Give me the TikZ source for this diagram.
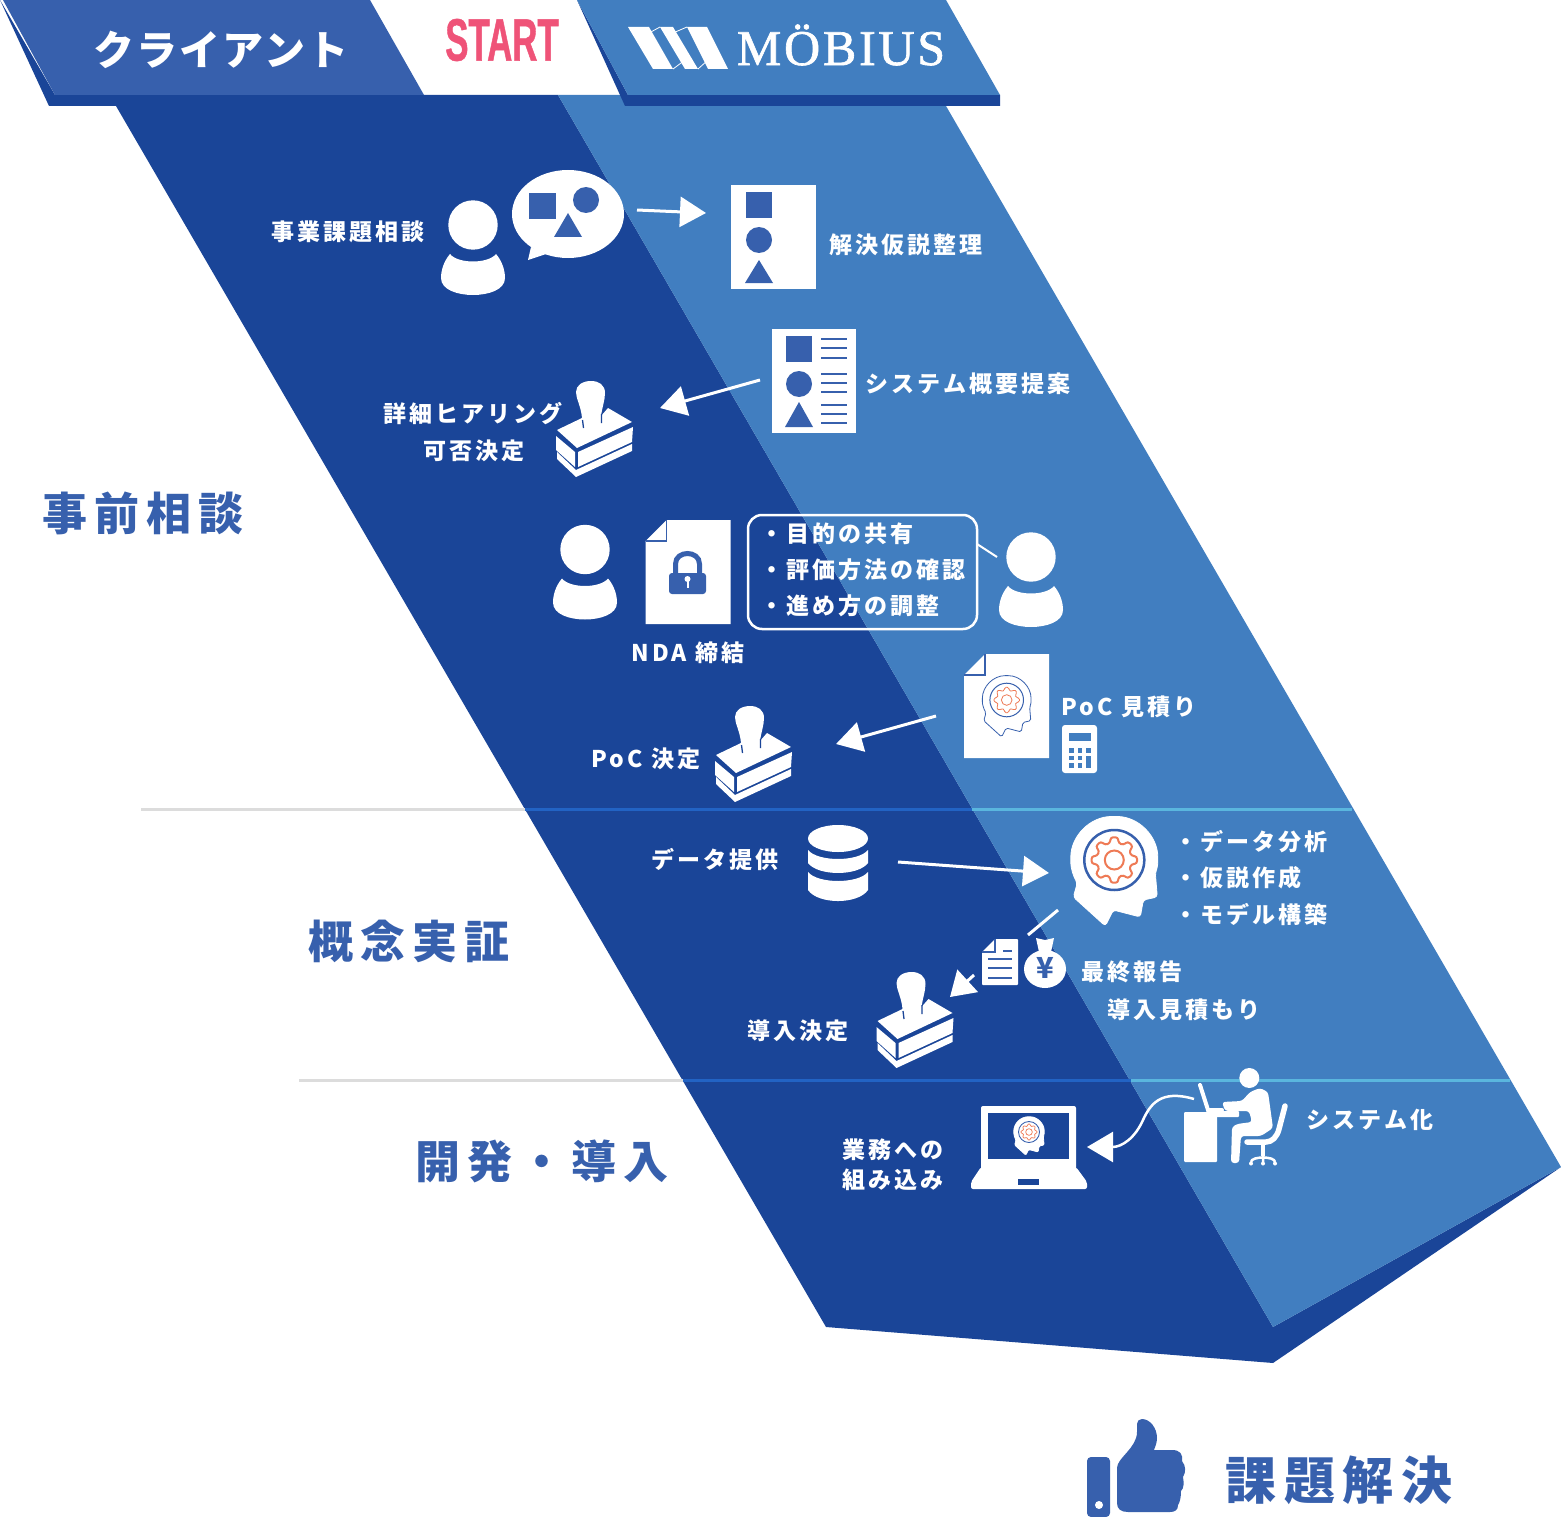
\documentclass[tikz,border=0pt]{standalone}
\usepackage{fontspec}
\usetikzlibrary{arrows.meta}
\newfontfamily\lblfont[LetterSpace=13.5]{Noto Sans CJK JP}
\newfontfamily\secfont[LetterSpace=15.5]{Noto Sans CJK JP}
\newfontfamily\hdrfont[LetterSpace=5]{Noto Sans CJK JP}
\newfontfamily\plainjp{Noto Sans CJK JP}
\newfontfamily\startfont[FakeStretch=0.58,FakeBold=0.7]{Liberation Sans}
\newfontfamily\logofont[LetterSpace=5.5,FakeBold=1.3]{Liberation Serif}
\definecolor{deepblue}{HTML}{1A4598}
\definecolor{midblue}{HTML}{417EC0}
\definecolor{brandblue}{HTML}{3760AD}
\definecolor{startpink}{HTML}{EF5378}
\definecolor{gearorange}{HTML}{EE7A55}
\definecolor{ruleblue}{HTML}{2263C4}
\definecolor{rulesky}{HTML}{5AB6DE}
\definecolor{rulegrey}{HTML}{DCDCDC}
\tikzset{
  lab/.style={text=white,inner sep=0pt,font=\lblfont\bfseries\fontsize{23}{26}\selectfont},
  lableft/.style={lab,anchor=west},
  sect/.style={text=brandblue,inner sep=0pt,font=\secfont\bfseries\fontsize{45}{50}\selectfont},
  flowarrow/.style={draw=white,line width=3pt,-{Triangle[length=26pt,width=30pt,fill=white]}},
  plainstroke/.style={draw=white,line width=3pt},
  glyphfill/.style={fill=brandblue,draw=none},
  whitefill/.style={fill=white,draw=none},
  rule/.style={line width=3pt},
  stampicon/.pic={
    % handle and top face of the stamp
    \path[whitefill] (557,430) -- (582,418) .. controls (581,406) and (576,399) .. (576,392)
      .. controls (576,385) and (583,381) .. (591,381) .. controls (599,381) and (605,385) .. (605,393)
      .. controls (605,400) and (602,408) .. (601,416) -- (608,408) -- (632,422) -- (577,448) -- cycle;
    \path[draw=deepblue,line width=1.3pt] (582.5,420) -- (583.5,428) (601.5,414) -- (601.5,423);
    % side faces
    \path[whitefill] (556,436) -- (575,452) -- (575,467) -- (556,450) -- cycle;
    \path[whitefill] (578,452) -- (633,427) -- (632,442) -- (578,467) -- cycle;
    % base plate
    \path[whitefill] (557,452) -- (576,470) -- (632,444) -- (632,451) -- (576,477) -- (557,459) -- cycle;
  },
  personicon/.pic={
    \path[whitefill] (0,0) circle[radius=24.7];
    \path[whitefill] (23,29) .. controls (29,36) and (32,45) .. (32,53)
      .. controls (32,65) and (15,70) .. (0,70) .. controls (-15,70) and (-32,65) .. (-32,53)
      .. controls (-32,45) and (-29,36) .. (-23,29) .. controls (-15,39) and (15,39) .. (23,29) -- cycle;
  },
  foldeddoc/.pic={
    % page with a folded corner; origin at the page's upper left
    \path[whitefill] (21,0) -- (85,0) -- (85,104) -- (0,104) -- (0,21) -- cycle;
    \path[draw=brandblue,line width=1.5pt] (21,0) -- (21,21) -- (0,21);
  }
}
% Head silhouette with a gear: centre, scale, outline colour, line width
\newcommand{\headfig}[4]{%
  \begin{scope}[shift={#1},scale=#2]
    \path[fill=white,draw=#3,line width=0.8pt,rounded corners=#2*3pt] (-37,23)
      .. controls (-41,16) and (-43.5,8) .. (-43.5,0)
      .. controls (-43.5,-24) and (-24,-43.5) .. (0,-43.5)
      .. controls (24,-43.5) and (43.5,-24) .. (43.5,0)
      .. controls (43.5,5) and (42.5,9) .. (41,13)
      -- (43,37) -- (29,40) -- (26,57) -- (-1,50) -- (-9,66) -- (-41,37) -- cycle;
    \draw[brandblue,line width=#4*1.25] (0,0) circle[radius=30];
    \draw[gearorange,line width=#4,rounded corners=#2*2.5pt] (-14:17.5) -- (-9:23) -- (9:23) -- (14:17.5)
      \foreach \a in {45,90,...,315} { -- (\a-14:17.5) -- (\a-9:23) -- (\a+9:23) -- (\a+14:17.5) } -- cycle;
    \draw[gearorange,line width=#4] (0,0) circle[radius=9.5];
  \end{scope}}
\begin{document}
\begin{tikzpicture}[x=1pt,y=-1pt]
\useasboundingbox (0,0) rectangle (1561,1517);
\fill[white] (0,0) rectangle (1561,1517);

% the two overlapping ribbons
\fill[deepblue] (0,0) -- (49,106) -- (116,106) -- (826,1327) -- (1273,1363) -- (1561,1167)
  -- (1273,1327) -- (558,95) -- (55,95) -- cycle;
\fill[midblue] (558,95) -- (625,95) -- (625,106) -- (946,106) -- (1561,1167) -- (1273,1327) -- cycle;

% header tabs
\fill[brandblue] (3,0) -- (370,0) -- (424,95) -- (55,95) -- cycle;
\fill[deepblue] (577,0) -- (620,95) -- (625,106) -- (1000,106) -- (1000,95) -- (628,95) -- cycle;
\fill[midblue] (577,0) -- (946,0) -- (1000,95) -- (628,95) -- cycle;

% phase rules
\draw[rule,rulegrey] (141,809) -- (525,809);
\draw[rule,ruleblue] (525,809) -- (972,809);
\draw[rule,rulesky] (972,809) -- (1352,809);
\draw[rule,rulegrey] (299,1080) -- (683,1080);
\draw[rule,ruleblue] (683,1080) -- (1131,1080);
\draw[rule,rulesky] (1131,1080) -- (1510,1080);

% header texts and logo
\node[text=white,inner sep=0pt,font=\hdrfont\bfseries\fontsize{41}{46}\selectfont] (hclient) at (221,50) {クライアント};
\node[text=startpink,inner sep=0pt,font=\startfont\bfseries\fontsize{60}{62}\selectfont] (hstart) at (502,40) {START};
\node[text=white,inner sep=0pt,font=\logofont\fontsize{50}{54}\selectfont] (hmobius) at (841,45) {MÖBIUS};
\fill[white] (628,27) -- (649,27) -- (673,69) -- (653,69) -- cycle;
\fill[white] (660,27) -- (673,27) -- (698,69) -- (685,69) -- cycle;
\fill[white] (687,27) -- (707,27) -- (728,69) -- (708,69) -- cycle;
\draw[white,line width=0.8pt] (649,33) -- (660,27) (673,69) -- (685,60) (698,69) -- (708,60) (673,33) -- (687,27);

% section titles
\node[sect] (secA) at (143,513) {事前相談};
\node[sect] (secB) at (409,941) {概念実証};
\node[sect] (secC) at (542,1161) {開発・導入};
\node[sect,font=\secfont\bfseries\fontsize{51}{56}\selectfont] (secD) at (1339,1480) {課題解決};

% thumbs-up
\fill[brandblue,rounded corners=4pt] (1087,1457) rectangle (1110,1517);
\fill[white] (1099,1505) circle[radius=4];
\path[glyphfill] (1142,1419) .. controls (1150,1419) and (1157,1428) .. (1157,1438)
  .. controls (1157,1443) and (1155,1447) .. (1154,1450) -- (1172,1450)
  .. controls (1180,1450) and (1183,1454) .. (1182,1461) .. controls (1186,1466) and (1186,1472) .. (1183,1477)
  .. controls (1184,1483) and (1184,1488) .. (1181,1491) .. controls (1181,1497) and (1180,1502) .. (1178,1505)
  .. controls (1178,1510) and (1175,1512) .. (1170,1512) -- (1128,1512)
  .. controls (1121,1512) and (1117,1509) .. (1117,1503) -- (1117,1468)
  .. controls (1117,1458) and (1137,1448) .. (1137,1432) -- (1137,1424)
  .. controls (1137,1421) and (1139,1419) .. (1142,1419) -- cycle;

% client speaker and speech bubble
\pic (clientA) at (473,225) {personicon};
\path[whitefill] (568,214) circle[x radius=56,y radius=44];
\path[whitefill] (531,247) -- (528,260) -- (546,254) -- cycle;
\path[glyphfill] (529,193) rectangle (556,219);
\path[glyphfill] (586,200) circle[radius=13];
\path[glyphfill] (568,213) -- (582,237) -- (554,237) -- cycle;
\node[lab] (t1) at (348,232) {事業課題相談};

% hypothesis sheet
\path[whitefill] (731,185) rectangle (816,289);
\path[glyphfill] (746,192) rectangle (772,218);
\path[glyphfill] (759,240) circle[radius=13];
\path[glyphfill] (759,260) -- (773,283) -- (745,283) -- cycle;
\node[lab] (t2) at (906,245) {解決仮説整理};
\coordinate (a1s) at (637,210);
\coordinate (a1e) at (706,213);
\draw[flowarrow] (a1s) -- (a1e);

% proposal sheet
\path[whitefill] (772,329) rectangle (856,433);
\path[glyphfill] (786,336) rectangle (812,362);
\path[glyphfill] (799,384) circle[radius=13];
\path[glyphfill] (799,402) -- (813,427) -- (785,427) -- cycle;
\foreach \ly in {339,348,358,374,383,392,405,414,423}
  \draw[brandblue,line width=1.5pt] (821,\ly) -- (847,\ly);
\node[lab] (t3) at (968,384) {システム概要提案};
\coordinate (a2s) at (760,380);
\coordinate (a2e) at (660,408);
\draw[flowarrow] (a2s) -- (a2e);

% hearing decision
\pic (stampA) at (0,0) {stampicon};
\node[lab] (t4a) at (473,414) {詳細ヒアリング};
\node[lab] (t4b) at (474,451) {可否決定};

% NDA
\pic (clientB) at (585,549.5) {personicon};
\pic (ndadoc) at (645.5,520) {foldeddoc};
\path[glyphfill,rounded corners=3pt] (669,573) rectangle (706,594);
\draw[brandblue,line width=5pt] (675.5,575) -- (675.5,564) .. controls (675.5,550) and (699.5,550) .. (699.5,564) -- (699.5,575);
\path[whitefill] (687.5,579) circle[radius=3];
\path[whitefill] (686.5,580) rectangle (688.5,588);
\node[lab] (t5) at (688,653) {NDA 締結};
\node[draw=white,line width=2.5pt,rounded corners=14pt,minimum width=229pt,minimum height=114pt,inner sep=0pt] (callout) at (862.5,572) {};
\coordinate (tailA) at (977,544);
\coordinate (tailB) at (997,557);
\draw[plainstroke,line width=2pt] (tailA) -- (tailB);
\node[lableft] (t6a) at (760,534) {・目的の共有};
\node[lableft] (t6b) at (760,570) {・評価方法の確認};
\node[lableft] (t6c) at (760,606) {・進め方の調整};
\pic (mobiusA) at (1031,557) {personicon};

% PoC estimate
\pic (pocdoc) at (964,654) {foldeddoc};
\headfig{(1006.7,700)}{0.56}{brandblue}{0.8pt}
\node[lableft] (t7) at (1061,707) {PoC 見積り};
\path[whitefill,rounded corners=3pt] (1062,725) rectangle (1097,773);
\fill[midblue] (1069,733) rectangle (1091,741);
\foreach \cx in {1069,1077.5,1086} \foreach \cy in {748,755.5,763}
  \fill[midblue] (\cx,\cy) rectangle ++(4.5,4.5);
\fill[midblue] (1086,755.5) rectangle (1090.5,767.5);
\coordinate (a3s) at (936,716);
\coordinate (a3e) at (836,744);
\draw[flowarrow] (a3s) -- (a3e);
\pic (stampB) at (159,325) {stampicon};
\node[lab] (t8) at (646,759) {PoC 決定};

% data handover
\node[lab] (t9) at (715,859) {データ提供};
\path[whitefill] (838,838.5) circle[x radius=30,y radius=13.5];
\path[whitefill] (808,850) .. controls (818,862) and (858,862) .. (868,850) -- (868,863)
  .. controls (858,876.3) and (818,876.3) .. (808,863) -- cycle;
\path[whitefill] (808,872) .. controls (818,884) and (858,884) .. (868,872) -- (868,890)
  .. controls (858,904.7) and (818,904.7) .. (808,890) -- cycle;
\coordinate (a4s) at (898,862);
\coordinate (a4e) at (1049,873);
\draw[flowarrow] (a4s) -- (a4e);

% analysis
\headfig{(1114.3,860)}{1}{white}{2pt}
\node[lableft] (t10a) at (1174,842) {・データ分析};
\node[lableft] (t10b) at (1174,878) {・仮説作成};
\node[lableft] (t10c) at (1174,914) {・モデル構築};
\coordinate (l1s) at (1058,910);
\coordinate (l1e) at (1028,935);
\draw[plainstroke] (l1s) -- (l1e);

% final report and estimate
\path[whitefill,rounded corners=0.8pt] (995,939) -- (1018,939) -- (1018,985) -- (982,985) -- (982,952) -- cycle;
\draw[brandblue,line width=1.2pt] (995,939) -- (995,952) -- (982,952);
\foreach \ly in {959,968,978} \draw[brandblue,line width=1.5pt] (988,\ly) -- (1012,\ly);
\draw[brandblue,line width=1.5pt] (1003,951) -- (1012,951);
\path[whitefill] (1045,969) circle[x radius=21,y radius=19];
\path[whitefill] (1036,938) -- (1045,940) -- (1054,938) -- (1051,952) -- (1039,952) -- cycle;
\node[text=brandblue,inner sep=0pt,font=\plainjp\bfseries\fontsize{29}{30}\selectfont] (yen) at (1045,968) {¥};
\node[lab] (t11a) at (1132,972) {最終報告};
\node[lab] (t11b) at (1184,1010) {導入見積もり};
\coordinate (a5s) at (974,975);
\coordinate (a5e) at (950,997);
\draw[flowarrow,-{Triangle[length=24pt,width=30pt,fill=white]}] (a5s) -- (a5e);
\pic (stampC) at (320.5,591) {stampicon};
\node[lab] (t12) at (798,1031) {導入決定};

% system build: laptop on the client side
\path[whitefill,rounded corners=2pt] (981,1106) -- (1076,1106) -- (1076,1170) -- (981,1170) -- cycle;
\path[whitefill,rounded corners=2pt] (981,1167) -- (1076,1167) -- (1087,1182) -- (1087,1189) -- (971,1189) -- (971,1182) -- cycle;
\fill[deepblue] (988,1113) rectangle (1069,1159);
\fill[deepblue] (1018,1179) rectangle (1039,1185);
\headfig{(1029,1132)}{0.35}{white}{0.7pt}
\node[lab] (t13a) at (893,1150) {業務への};
\node[lab] (t13b) at (893,1180) {組み込み};

% worker at a desk
\path[whitefill] (1249.3,1078) circle[radius=10];
\path[whitefill,rounded corners=1pt] (1184,1112) -- (1217,1112) -- (1217,1162) -- (1184,1162) -- cycle;
\path[whitefill,rounded corners=1pt] (1207,1111) -- (1239,1111) -- (1239,1117) -- (1207,1117) -- cycle;
\draw[white,line width=4pt,line cap=round] (1200,1085) -- (1208,1110) -- (1222,1110);
\path[whitefill,rounded corners=3pt] (1222,1102) -- (1242,1101) -- (1250,1092) -- (1260,1088) -- (1268,1092)
  -- (1273,1128) -- (1261,1136) -- (1241,1136) -- (1239,1163) -- (1231,1163) -- (1232,1127) -- (1237,1124)
  -- (1252,1122) -- (1249,1111) -- (1225,1111) -- cycle;
\draw[white,line width=5.5pt,line cap=round,line join=round] (1285,1106) -- (1279,1129)
  .. controls (1277,1137) and (1272,1142) .. (1266,1142) -- (1247,1142);
\draw[white,line width=3.5pt] (1263,1142) -- (1263,1156);
\draw[white,line width=2.5pt] (1251,1162) .. controls (1251,1156) and (1275,1156) .. (1275,1162) (1263,1156) -- (1263,1162);
\foreach \fx in {1251,1263,1275} \path[whitefill] (\fx,1163.5) circle[radius=2];
\node[lab] (t14) at (1370,1120) {システム化};
\coordinate (a6s) at (1194,1099);
\coordinate (a6e) at (1087,1147);
\draw[flowarrow,line width=2.5pt] (a6s) .. controls (1160,1089) and (1150,1105) .. (1143,1120)
  .. controls (1135,1138) and (1122,1147) .. (a6e);
\end{tikzpicture}
\end{document}
